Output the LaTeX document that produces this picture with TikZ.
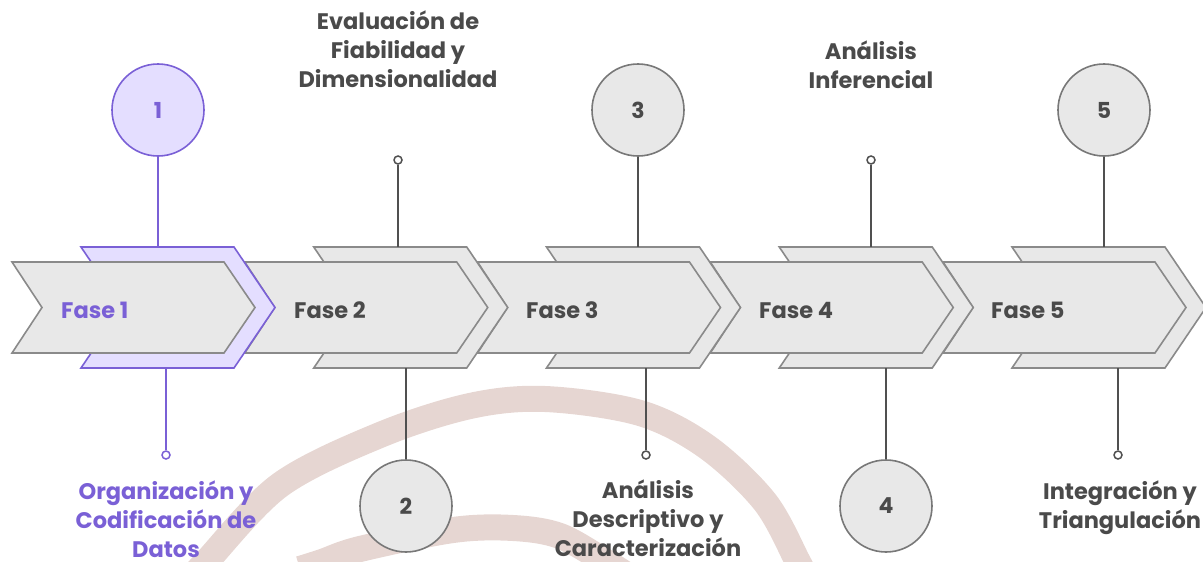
\documentclass[tikz,border=0pt]{standalone}
\usepackage{fontspec}
\setmainfont{Poppins}
\definecolor{cfill}{RGB}{232,232,232}
\definecolor{cline}{RGB}{138,138,138}
\definecolor{cgray}{RGB}{120,120,120}
\definecolor{cconn}{RGB}{80,80,80}
\definecolor{ctext}{RGB}{74,74,74}
\definecolor{pfill}{RGB}{228,222,255}
\definecolor{pline}{RGB}{122,96,214}
\definecolor{arcc}{RGB}{230,214,210}
\begin{document}
\begin{tikzpicture}[x=1pt,y=-1pt,
  chev/.style={fill=cfill,draw=cline,line width=1.6pt,line join=miter},
  chevp/.style={fill=pfill,draw=pline,line width=1.6pt,line join=miter},
  bigc/.style={circle,minimum size=92pt,inner sep=0pt,fill=cfill,draw=cgray,line width=1.6pt,text=ctext,font=\fontsize{22}{26}\selectfont\bfseries},
  bigcp/.style={bigc,fill=pfill,draw=pline,text=pline},
  endpt/.style={circle,minimum size=8pt,inner sep=0pt,fill=white,draw=cconn,line width=1.5pt},
  endptp/.style={endpt,draw=pline},
  conn/.style={draw=cconn,line width=1.6pt},
  connp/.style={draw=pline,line width=1.6pt},
  faselbl/.style={anchor=base west,inner sep=0pt,text=ctext,font=\fontsize{22.5}{26}\selectfont\bfseries},
  desc/.style={anchor=base,inner sep=0pt,align=center,text=ctext,font=\fontsize{22.5}{29}\selectfont\bfseries},
  arcband/.style={draw=arcc,line width=26pt,line cap=butt}
]
\useasboundingbox (0,0) rectangle (1203,562);
% background arcs
\begin{scope}
\clip (0,0) rectangle (1203,562);
\draw[arcband] plot[smooth,tension=0.55] coordinates {(195,574) (206,562) (280,485) (380,435) (470,406) (545,399) (640,413) (707,447) (765,502) (798,562) (805,576)};
\draw[arcband] plot[smooth,tension=0.55] coordinates {(300,569) (322,562) (360,549) (453,530) (513,528) (560,536) (606,562) (625,574)};
\end{scope}
% chevrons, drawn from right to left
\foreach \i in {4,3,2,1}{
  \pgfmathsetmacro\dx{\i*232.75}
  \draw[chev] ({81+\dx},247) -- ({234+\dx},247) -- ({275+\dx},307.5) -- ({234+\dx},368) -- ({81+\dx},368) -- ({122+\dx},307.5) -- cycle;
  \draw[chev] ({12+\dx},262) -- ({224+\dx},262) -- ({255+\dx},307.5) -- ({224+\dx},353) -- ({12+\dx},353) -- ({42+\dx},307.5) -- cycle;
}
\draw[chevp] (81,247) -- (234,247) -- (275,307.5) -- (234,368) -- (81,368) -- (122,307.5) -- cycle;
\draw[chev] (12,262) -- (224,262) -- (255,307.5) -- (224,353) -- (12,353) -- (42,307.5) -- cycle;
% phase labels
\node[faselbl,text=pline] (f1) at (61,318.3) {Fase 1};
\node[faselbl] (f2) at (294,318.3) {Fase 2};
\node[faselbl] (f3) at (526,318.3) {Fase 3};
\node[faselbl] (f4) at (759,318.3) {Fase 4};
\node[faselbl] (f5) at (991,318.3) {Fase 5};
% attachment points on the chevrons
\coordinate (t1) at (158,247);  \coordinate (b1) at (166,368);
\coordinate (t2) at (398,247);  \coordinate (b2) at (406,368);
\coordinate (t3) at (638,247);  \coordinate (b3) at (646,368);
\coordinate (t4) at (871,247);  \coordinate (b4) at (886,368);
\coordinate (t5) at (1104,247); \coordinate (b5) at (1118,368);
% number circles
\node[bigcp] (c1) at (158,110) {1};
\node[bigc] (c2) at (406,506) {2};
\node[bigc] (c3) at (638,110) {3};
\node[bigc] (c4) at (886,506) {4};
\node[bigc] (c5) at (1104,110) {5};
% end points
\node[endptp] (e1) at (166,455) {};
\node[endpt] (e2) at (398,160) {};
\node[endpt] (e3) at (646,455) {};
\node[endpt] (e4) at (871,160) {};
\node[endpt] (e5) at (1118,455) {};
% connectors
\draw[connp] (c1) -- (t1);
\draw[connp] (b1) -- (e1);
\draw[conn] (e2) -- (t2);
\draw[conn] (b2) -- (c2);
\draw[conn] (c3) -- (t3);
\draw[conn] (b3) -- (e3);
\draw[conn] (e4) -- (t4);
\draw[conn] (b4) -- (c4);
\draw[conn] (c5) -- (t5);
\draw[conn] (b5) -- (e5);
% descriptions (anchored at the baseline of their last line)
\node[desc] (d2) at (398,87) {Evaluación de\\Fiabilidad y\\Dimensionalidad};
\node[desc] (d4) at (871,88) {Análisis\\Inferencial};
\node[desc,text=pline] (d1) at (166,557) {Organización y\\Codificación de\\Datos};
\node[desc] (d3) at (648,556) {Análisis\\Descriptivo y\\Caracterización};
\node[desc] (d5) at (1120,528) {Integración y\\Triangulación};
\end{tikzpicture}
\end{document}
